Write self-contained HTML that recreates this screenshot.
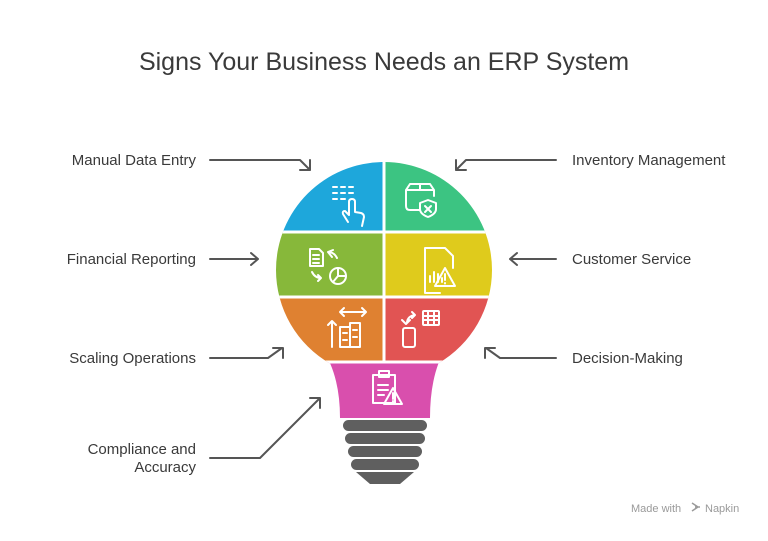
<!DOCTYPE html>
<html><head><style>
body{margin:0;background:#fff;}
svg text{font-family:"Liberation Sans",sans-serif;}
</style></head><body>
<svg width="768" height="536" viewBox="0 0 768 536" xmlns="http://www.w3.org/2000/svg">
<rect width="768" height="536" fill="#fff"/>
<text x="384" y="70" text-anchor="middle" font-size="25" fill="#3a3a3a">Signs Your Business Needs an ERP System</text>
<defs>
<clipPath id="b">
<circle cx="384" cy="270" r="108"/>
<path d="M326,355 L442,355 Q430,380 430,418 L340,418 Q340,380 326,355 Z"/>
</clipPath>
</defs>
<g clip-path="url(#b)">
<rect x="260" y="150" width="124" height="82" fill="#1ea7db"/>
<rect x="384" y="150" width="124" height="82" fill="#3cc482"/>
<rect x="260" y="232" width="124" height="65" fill="#87b83a"/>
<rect x="384" y="232" width="124" height="65" fill="#dfcb1c"/>
<rect x="260" y="297" width="124" height="65" fill="#df8131"/>
<rect x="384" y="297" width="124" height="65" fill="#e15453"/>
<rect x="260" y="362" width="250" height="60" fill="#d94fad"/>
<g stroke="#fff" stroke-width="3">
<line x1="384" y1="150" x2="384" y2="362"/>
<line x1="260" y1="232" x2="510" y2="232"/>
<line x1="260" y1="297" x2="510" y2="297"/>
<line x1="260" y1="362" x2="510" y2="362"/>
</g>
</g>
<g fill="#5f5f5f">
<rect x="343" y="420" width="84" height="11" rx="5.5"/>
<rect x="345" y="433" width="80" height="11" rx="5.5"/>
<rect x="348" y="446" width="74" height="11" rx="5.5"/>
<rect x="351" y="459" width="68" height="11" rx="5.5"/>
<path d="M356,472 L414,472 L400,484 L370,484 Z"/>
</g>
<g stroke="#fff" stroke-width="2" fill="none" stroke-linecap="round" stroke-linejoin="round">
<path d="M333,187h4M341,187h4M349,187h4M333,193h4M341,193h4M349,193h4M333,199h4M341,199h4"/>
<path d="M348,222 l-5,-8 q-1,-3 2,-3 l4,4 v-13 q0,-3 3,-3 q3,0 3,3 v10 l6,1 q3,1 3,4 l-2,9"/>
<path d="M420,210 h-10 q-4,0 -4,-4 v-16 l4,-6 h20 l4,6 v6 M406,190 h28 M420,184 v6"/>
<path d="M428,200 l8,3 v6 q0,5 -8,8 q-8,-3 -8,-8 v-6 Z M425,206 l6,6 M431,206 l-6,6"/>
<path d="M310,249 h9 l4,4 v13 h-13 Z M313,255h6M313,259h6M313,263h6"/>
<path d="M332,257 l-4,-5 l5,-2 M328,252 q6,0 9,6"/>
<path d="M312,272 q3,6 9,6 M318,275 l3,3 l-3,3"/>
<circle cx="338" cy="276" r="8"/><path d="M338,268v8h8M338,276 l-5,6"/>
<path d="M440,293 h-15 v-45 h20 l8,8 v12"/>
<path d="M430,282v-6M434,282v-10M438,282v-8M442,282v-4"/>
<path d="M445,268 l-10,18 h20 Z M445,274v6M445,283v0.5"/>
<path d="M340,312 h26 M344,308 l-4,4 l4,4 M362,308 l4,4 l-4,4"/>
<path d="M332,347 v-26 M328,325 l4,-4 l4,4"/>
<path d="M340,347 v-20 h10 v20 Z M350,347 v-24 h10 v24 Z M343,333h4M343,340h4M353,330h4M353,337h4"/>
<rect x="423" y="311" width="16" height="14" rx="1"/><path d="M423,316h16M423,320h16M428,311v14M434,311v14"/>
<path d="M407,322 q1,-6 8,-7 M412,312 l3,3 l-3,3 M402,320l4,4l4,-4"/>
<rect x="403" y="328" width="12" height="19" rx="2"/>
<path d="M373,375 h22 v28 h-22 Z M379,371 h10 v6 h-10 Z M378,385h10M378,390h10M378,395h6"/>
<path d="M393,388 l-9,16 h18 Z M393,393v6M393,401v0.5"/>
</g>
<g stroke="#555" stroke-width="2" fill="none" stroke-linecap="round" stroke-linejoin="round">
<path d="M210,160 H300 L310,170 M300,170 H310 V160"/>
<path d="M556,160 H466 L456,170 M466,170 H456 V160"/>
<path d="M210,259 H258 M251,253 L258,259 L251,265"/>
<path d="M556,259 H510 M517,253 L510,259 L517,265"/>
<path d="M210,358 H268 L282,348 M273,348 H283 V358"/>
<path d="M556,358 H500 L486,348 M495,348 H485 V358"/>
<path d="M210,458 H260 L320,398 M310,398 H320 V408"/>
</g>
<g font-size="15" fill="#3a3a3a">
<text x="196" y="165" text-anchor="end">Manual Data Entry</text>
<text x="196" y="264" text-anchor="end">Financial Reporting</text>
<text x="196" y="363" text-anchor="end">Scaling Operations</text>
<text x="196" y="454" text-anchor="end">Compliance and</text>
<text x="196" y="472" text-anchor="end">Accuracy</text>
<text x="572" y="165">Inventory Management</text>
<text x="572" y="264">Customer Service</text>
<text x="572" y="363">Decision-Making</text>
</g>
<text x="631" y="512" font-size="11" fill="#9a9a9a">Made with</text>
<path d="M692,503 l6,4 l-6,4 M695,507 h5" stroke="#9a9a9a" stroke-width="1.5" fill="none"/>
<text x="705" y="512" font-size="11" fill="#9a9a9a">Napkin</text>
</svg>
</body></html>
